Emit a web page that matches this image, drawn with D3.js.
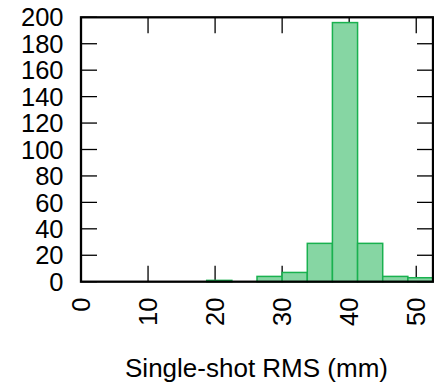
<!DOCTYPE html>
<html>
<head>
<meta charset="utf-8">
<script src="https://cdn.jsdelivr.net/npm/d3@7"></script>
<style>
html,body{margin:0;padding:0;background:#fff;}
svg{display:block;}
text{font-family:"Liberation Sans",Arial,Helvetica,sans-serif;fill:#000;}
</style>
</head>
<body>
<script>
// Data
const binStarts = [18.75, 26.25, 30, 33.75, 37.5, 41.25, 45, 48.75];
const binWidth = 3.75;
const counts = [1, 4, 7, 29, 196, 29, 4, 3];
const xTicks = [0, 10, 20, 30, 40, 50];
const yTicks = [0, 20, 40, 60, 80, 100, 120, 140, 160, 180, 200];
const xLabel = "Single-shot RMS (mm)";

const W = 434, H = 387;
const m = {left: 81, right: 1, top: 17.3, bottom: 105.3};
const svg = d3.select("body").append("svg").attr("width", W).attr("height", H);

const x = d3.scaleLinear().domain([0, 52.5]).range([m.left, W - m.right]);
const y = d3.scaleLinear().domain([0, 200]).range([H - m.bottom, m.top]);

const tickLen = 16;
const fs = 25.5;

// inward ticks (bottom/top/left/right)
const tg = svg.append("g").attr("stroke", "#000").attr("stroke-width", 1.3);
xTicks.forEach(t => {
  tg.append("line").attr("x1", x(t)).attr("x2", x(t)).attr("y1", y(0)).attr("y2", y(0) - tickLen);
  tg.append("line").attr("x1", x(t)).attr("x2", x(t)).attr("y1", y(200)).attr("y2", y(200) + tickLen);
});
yTicks.forEach(t => {
  tg.append("line").attr("x1", x(0)).attr("x2", x(0) + tickLen).attr("y1", y(t)).attr("y2", y(t));
  tg.append("line").attr("x1", x(52.5)).attr("x2", x(52.5) - tickLen).attr("y1", y(t)).attr("y2", y(t));
});

// bars
svg.append("g").selectAll("rect").data(counts).join("rect")
  .attr("x", (d, i) => x(binStarts[i]))
  .attr("width", (d, i) => x(binStarts[i] + binWidth) - x(binStarts[i]))
  .attr("y", d => y(d))
  .attr("height", d => y(0) - y(d))
  .attr("fill", "#86d6a3")
  .attr("stroke", "#19b14f")
  .attr("stroke-width", 1.5);

// frame
svg.append("rect")
  .attr("x", x(0)).attr("y", y(200))
  .attr("width", x(52.5) - x(0)).attr("height", y(0) - y(200))
  .attr("fill", "none").attr("stroke", "#000").attr("stroke-width", 2.3);

// y labels
svg.append("g").selectAll("text").data(yTicks).join("text")
  .attr("x", 63.5).attr("y", d => y(d)).attr("dy", "0.36em")
  .attr("text-anchor", "end").attr("font-size", fs)
  .text(d => d);

// x labels rotated
svg.append("g").selectAll("text").data(xTicks).join("text")
  .attr("transform", d => `translate(${x(d)},297.5) rotate(-90)`)
  .attr("dy", "0.36em")
  .attr("text-anchor", "end").attr("font-size", fs)
  .text(d => d);

// axis title
svg.append("text")
  .attr("x", 256.5).attr("y", 376.5)
  .attr("text-anchor", "middle").attr("font-size", 26)
  .text(xLabel);
</script>
</body>
</html>
